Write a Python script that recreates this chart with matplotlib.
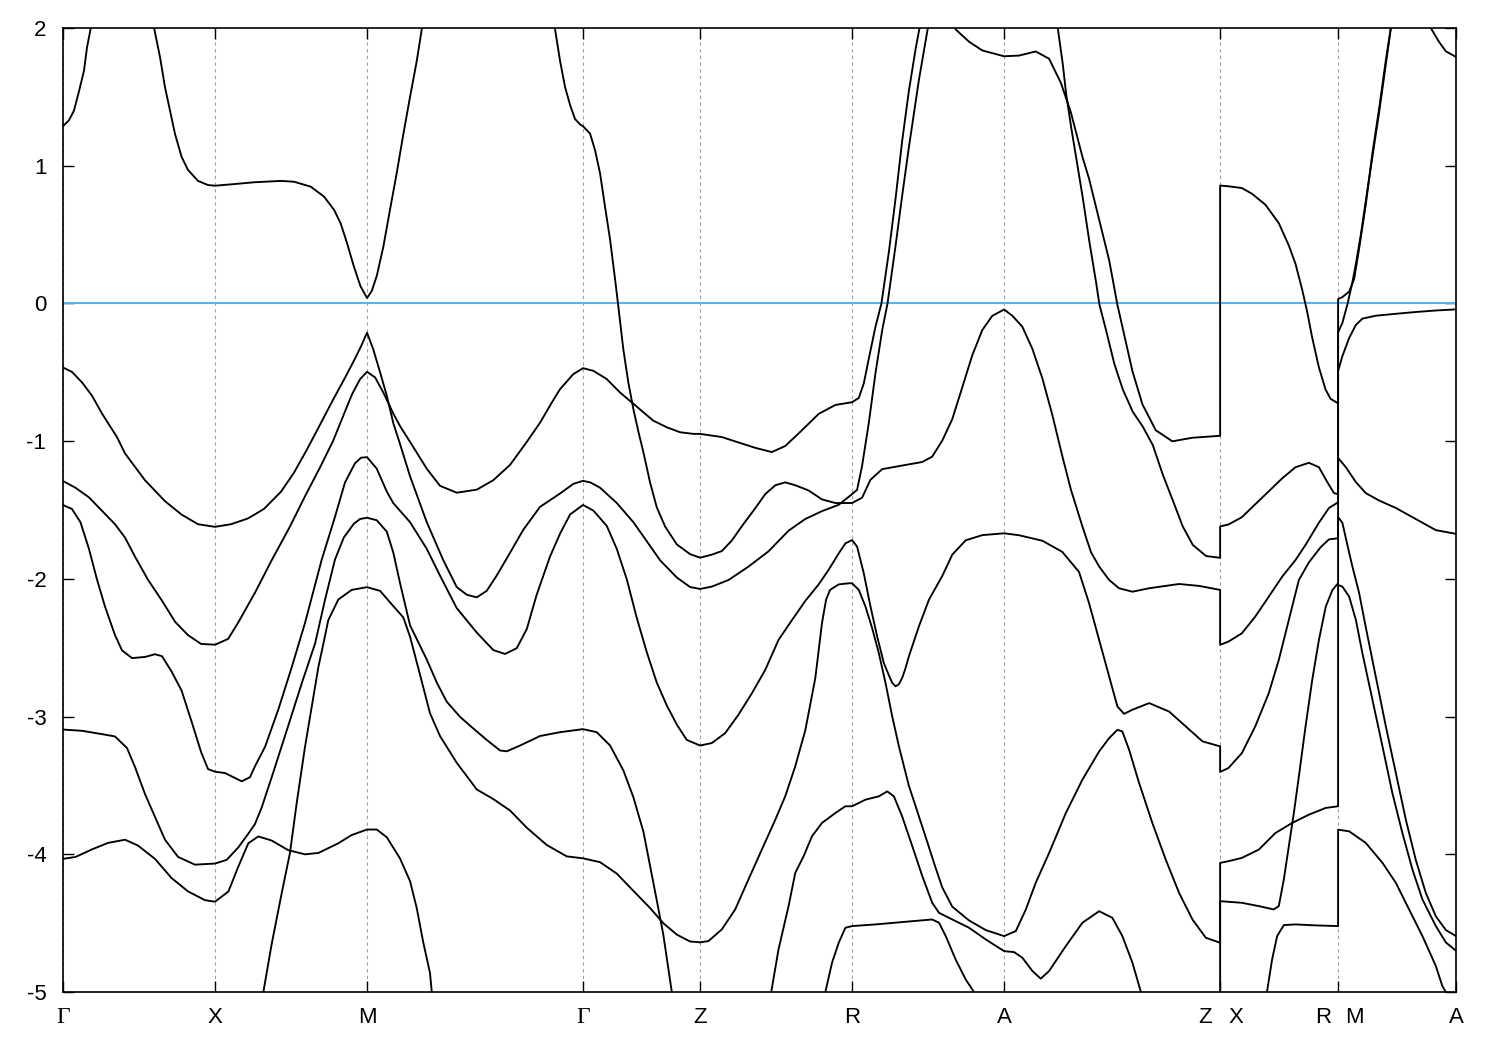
import matplotlib
matplotlib.use("Agg")
import matplotlib.pyplot as plt

# path coordinate in units of pi/a, high-symmetry points
k_ticks = [0.0, 1.0, 2.0, 3.421, 4.191, 5.191, 6.191, 7.612, 8.388, 9.164]
k_names = ['Γ', 'X', 'M', 'Γ', 'Z', 'R', 'A', '', '', 'A']
k_split = [(7.612, 'Z', 'X'), (8.388, 'R', 'M')]
e_ticks = [-5, -4, -3, -2, -1, 0, 1, 2]
e_fermi = 0.0

# ---- bands (k, E in eV), each one a continuous stroke along the path ----
A1_k = [0.0, 0.039, 0.072, 0.105, 0.138, 0.158, 0.181, 0.194]
A1_e = [1.287, 1.33, 1.40, 1.54, 1.69, 1.86, 1.99, 2.07]

B_k = [0.592, 0.601, 0.638, 0.671, 0.704, 0.737, 0.780, 0.822, 0.888, 0.954, 1.0,
       1.128, 1.257, 1.434, 1.520, 1.630, 1.717, 1.783, 1.826, 1.868, 1.913, 1.957, 2.0,
       2.031, 2.064, 2.107, 2.151, 2.195, 2.239, 2.283, 2.327, 2.360, 2.372]
B_e = [2.03, 1.99, 1.79, 1.57, 1.40, 1.23, 1.065, 0.97, 0.89, 0.86, 0.855,
       0.867, 0.88, 0.89, 0.884, 0.848, 0.776, 0.68, 0.583, 0.44, 0.27, 0.125, 0.04,
       0.09, 0.20, 0.41, 0.68, 0.945, 1.23, 1.50, 1.76, 1.99, 2.06]

A2_k = [3.227, 3.237, 3.270, 3.303, 3.336, 3.368, 3.401, 3.421,
        3.467, 3.5, 3.533, 3.566, 3.599, 3.632, 3.653, 3.686, 3.719, 3.752, 3.785, 3.818,
        3.862, 3.906, 3.961, 4.038, 4.125, 4.191,
        4.268, 4.334, 4.400, 4.466, 4.553, 4.620, 4.686, 4.751, 4.817, 4.905, 4.993, 5.081, 5.191,
        5.257, 5.312, 5.389, 5.520, 5.653, 5.718, 5.784, 5.850, 5.916, 5.982, 6.047, 6.113, 6.191,
        6.245, 6.311, 6.377, 6.443, 6.509, 6.574, 6.630, 6.706, 6.763, 6.816, 6.882, 6.947,
        7.035, 7.145, 7.342, 7.474, 7.612,
        7.612, 7.667, 7.755, 7.843, 7.932, 8.020, 8.108, 8.174, 8.262, 8.328, 8.388,
        8.388, 8.416, 8.461, 8.505, 8.548, 8.636, 8.768, 8.899, 9.031, 9.164]
A2_e = [2.06, 1.99, 1.76, 1.57, 1.44, 1.34, 1.30, 1.287,
        1.234, 1.113, 0.945, 0.70, 0.463, 0.173, -0.02, -0.333, -0.574, -0.766, -0.93, -1.08,
        -1.30, -1.48, -1.62, -1.75, -1.82, -1.846,
        -1.824, -1.798, -1.721, -1.617, -1.488, -1.384, -1.32, -1.299, -1.32, -1.358, -1.423, -1.449, -1.449,
        -1.41, -1.28, -1.203, -1.177, -1.151, -1.112, -0.996, -0.84, -0.608, -0.375, -0.194, -0.09, -0.044,
        -0.089, -0.169, -0.33, -0.545, -0.813, -1.109, -1.35, -1.619, -1.807, -1.91, -2.008, -2.068,
        -2.093, -2.068, -2.037, -2.051, -2.08,
        -2.479, -2.455, -2.395, -2.274, -2.129, -1.984, -1.863, -1.753, -1.592, -1.485, -1.444,
        -0.491, -0.383, -0.25, -0.156, -0.11, -0.089, -0.075, -0.062, -0.051, -0.043]

P_k = [0.0, 0.059, 0.125, 0.191, 0.257, 0.355, 0.408, 0.539, 0.671, 0.780, 0.888, 1.0,
       1.105, 1.217, 1.322, 1.434, 1.520, 1.605, 1.691, 1.776, 1.855, 1.921, 1.961, 2.0,
       2.041, 2.086, 2.130, 2.173, 2.217, 2.283, 2.393, 2.502, 2.590, 2.656, 2.722, 2.787,
       2.853, 2.941, 3.028, 3.138, 3.270, 3.357, 3.421,
       3.47, 3.533, 3.643, 3.752, 3.840, 3.928, 4.038, 4.125, 4.191,
       4.268, 4.378, 4.509, 4.641, 4.707, 4.773, 4.883, 4.993, 5.103, 5.191,
       5.224, 5.257, 5.301, 5.345, 5.389, 5.424, 5.477, 5.520, 5.564, 5.630, 5.697]
P_e = [-0.465, -0.497, -0.573, -0.67, -0.80, -0.97, -1.089, -1.283, -1.436, -1.533, -1.603, -1.622,
       -1.603, -1.561, -1.492, -1.367, -1.228, -1.06, -0.88, -0.70, -0.54, -0.40, -0.31, -0.212,
       -0.333, -0.50, -0.67, -0.87, -1.02, -1.255, -1.588, -1.865, -2.059, -2.115, -2.134, -2.087,
       -1.976, -1.81, -1.643, -1.477, -1.38, -1.31, -1.288,
       -1.30, -1.338, -1.449, -1.588, -1.726, -1.865, -1.99, -2.059, -2.073,
       -2.056, -2.008, -1.911, -1.80, -1.725, -1.65, -1.565, -1.508, -1.462, -1.384,
       -1.353, -1.177, -0.867, -0.504, -0.194, 0.0, 0.42, 0.78, 1.13, 1.62, 2.05]

Q_k = [0.0, 0.083, 0.171, 0.257, 0.342, 0.408, 0.474, 0.559, 0.651, 0.737, 0.822, 0.908, 1.0,
       1.086, 1.151, 1.263, 1.375, 1.493, 1.592, 1.691, 1.776, 1.842, 1.901, 1.954, 2.0,
       2.053, 2.107, 2.173, 2.217, 2.283, 2.393, 2.480, 2.590, 2.722, 2.831, 2.941, 3.051,
       3.138, 3.226, 3.270, 3.357, 3.421,
       3.489, 3.577, 3.664, 3.741, 3.818, 3.883, 3.972, 4.059, 4.147, 4.191,
       4.334, 4.443, 4.553, 4.663, 4.751, 4.839, 4.971, 5.081, 5.191,
       5.235, 5.268, 5.301, 5.345, 5.384, 5.433, 5.477, 5.520, 5.564, 5.609, 5.648]
Q_e = [-1.289, -1.339, -1.408, -1.506, -1.603, -1.70, -1.839, -2.006, -2.158, -2.311, -2.408, -2.472, -2.478,
       -2.436, -2.32, -2.10, -1.86, -1.62, -1.40, -1.19, -1.00, -0.82, -0.66, -0.55, -0.496,
       -0.537, -0.646, -0.80, -0.89, -1.005, -1.20, -1.324, -1.374, -1.352, -1.283, -1.172, -1.005,
       -0.866, -0.70, -0.622, -0.513, -0.47,
       -0.489, -0.549, -0.646, -0.718, -0.79, -0.851, -0.899, -0.935, -0.947, -0.947,
       -0.97, -1.009, -1.048, -1.079, -1.035, -0.944, -0.802, -0.737, -0.717,
       -0.686, -0.58, -0.40, -0.168, 0.0, 0.375, 0.763, 1.177, 1.54, 1.85, 2.08]

R3_k = [0.0, 0.059, 0.115, 0.171, 0.224, 0.276, 0.342, 0.388, 0.454, 0.539, 0.605, 0.651,
        0.714, 0.780, 0.845, 0.908, 0.954, 1.0,
        1.066, 1.176, 1.230, 1.263, 1.329, 1.416, 1.505, 1.592, 1.702, 1.789, 1.855, 1.921, 1.961, 2.0,
        2.064, 2.130, 2.173, 2.283, 2.393, 2.480, 2.590, 2.722, 2.831, 2.908, 2.985, 3.051,
        3.116, 3.204, 3.270, 3.336, 3.421,
        3.489, 3.577, 3.643, 3.709, 3.774, 3.840, 3.906, 3.972, 4.038, 4.103, 4.191,
        4.268, 4.356, 4.443, 4.532, 4.620, 4.707, 4.795, 4.883, 4.971, 5.036, 5.103, 5.147, 5.191,
        5.224, 5.268, 5.312, 5.356, 5.400, 5.433, 5.455, 5.477, 5.499, 5.520, 5.542, 5.564,
        5.630, 5.697, 5.784, 5.850, 5.938, 6.048, 6.191,
        6.289, 6.443, 6.574, 6.684, 6.750, 6.816, 6.882, 6.936, 6.980, 7.035, 7.145, 7.276,
        7.386, 7.496, 7.612,
        7.612, 7.667, 7.755, 7.843, 7.932, 7.998, 8.064, 8.130, 8.196, 8.273, 8.328, 8.388,
        8.388, 8.439, 8.505, 8.570, 8.658, 8.768, 8.899, 9.031, 9.164]
R3_e = [-1.464, -1.492, -1.589, -1.783, -2.006, -2.20, -2.408, -2.519, -2.575, -2.567, -2.547, -2.561,
        -2.672, -2.811, -3.033, -3.256, -3.381, -3.40,
        -3.41, -3.47, -3.44, -3.36, -3.22, -2.95, -2.64, -2.32, -1.86, -1.55, -1.30, -1.16, -1.12, -1.116,
        -1.20, -1.366, -1.45, -1.588, -1.782, -1.976, -2.212, -2.39, -2.517, -2.545, -2.503, -2.364,
        -2.115, -1.837, -1.671, -1.532, -1.463,
        -1.504, -1.615, -1.782, -2.004, -2.281, -2.531, -2.753, -2.919, -3.058, -3.169, -3.21,
        -3.192, -3.12, -2.987, -2.83, -2.66, -2.443, -2.30, -2.16, -2.04, -1.935, -1.815, -1.742, -1.718,
        -1.766, -1.96, -2.201, -2.419, -2.612, -2.70, -2.755, -2.78, -2.765, -2.72, -2.65, -2.564,
        -2.346, -2.15, -1.979, -1.824, -1.72, -1.682, -1.669,
        -1.683, -1.723, -1.804, -1.95, -2.177, -2.443, -2.709, -2.926, -2.98, -2.95, -2.902, -2.963,
        -3.071, -3.18, -3.216,
        -3.402, -3.373, -3.265, -3.071, -2.83, -2.588, -2.298, -2.008, -1.88, -1.77, -1.713, -1.705,
        -1.122, -1.189, -1.297, -1.377, -1.431, -1.485, -1.565, -1.646, -1.673]

R4_k = [0.0, 0.125, 0.276, 0.342, 0.421, 0.474, 0.539, 0.605, 0.671, 0.757, 0.868, 1.0,
        1.077, 1.153, 1.219, 1.263, 1.307, 1.373, 1.472, 1.570, 1.658, 1.724, 1.789, 1.847,
        1.913, 1.954, 2.0,
        2.064, 2.130, 2.173, 2.217, 2.283, 2.393, 2.459, 2.524, 2.612, 2.699, 2.787, 2.875,
        2.919, 3.007, 3.138, 3.270, 3.421,
        3.511, 3.599, 3.686, 3.752, 3.818, 3.862, 3.906, 3.949, 4.005, 4.020]
R4_e = [-3.094, -3.103, -3.131, -3.144, -3.228, -3.367, -3.561, -3.728, -3.894, -4.019, -4.075, -4.067,
        -4.04, -3.95, -3.85, -3.78, -3.66, -3.44, -3.10, -2.76, -2.47, -2.15, -1.86, -1.70,
        -1.60, -1.565, -1.556,
        -1.574, -1.657, -1.81, -2.03, -2.337, -2.586, -2.753, -2.891, -3.002, -3.086, -3.169, -3.246,
        -3.252, -3.21, -3.141, -3.113, -3.091,
        -3.113, -3.21, -3.39, -3.585, -3.835, -4.084, -4.334, -4.583, -5.0, -5.12]

R5_k = [0.0, 0.083, 0.191, 0.296, 0.408, 0.493, 0.605, 0.714, 0.822, 0.934, 1.0,
        1.088, 1.153, 1.219, 1.285, 1.373, 1.482, 1.592, 1.680, 1.811, 1.899, 2.0,
        2.064, 2.130, 2.217, 2.283, 2.327, 2.370, 2.414, 2.426, 2.434]
R5_e = [-4.033, -4.019, -3.964, -3.917, -3.894, -3.936, -4.033, -4.172, -4.269, -4.333, -4.344,
        -4.27, -4.09, -3.92, -3.87, -3.90, -3.97, -4.0, -3.99, -3.92, -3.86, -3.82,
        -3.82, -3.876, -4.03, -4.195, -4.39, -4.64, -4.86, -5.0, -5.1]

C_k = [1.309, 1.318, 1.373, 1.439, 1.493, 1.537, 1.592, 1.636, 1.680, 1.713, 1.745, 1.811, 1.899, 2.0,
       2.086, 2.173, 2.239, 2.283, 2.349, 2.414, 2.480, 2.590, 2.722, 2.831, 2.941, 3.051, 3.182,
       3.314, 3.421,
       3.533, 3.643, 3.752, 3.862, 3.949, 4.038, 4.125, 4.191,
       4.246, 4.334, 4.422, 4.509, 4.597, 4.686, 4.751, 4.817, 4.883, 4.949, 4.993, 5.020, 5.046,
       5.103, 5.168, 5.191,
       5.235, 5.279, 5.323, 5.367, 5.411, 5.455, 5.499, 5.564, 5.653, 5.741, 5.784, 5.850, 5.960,
       6.070, 6.191,
       6.268, 6.334, 6.399, 6.487, 6.597, 6.706, 6.816, 6.882, 6.936, 6.969, 7.013, 7.079, 7.166,
       7.254, 7.342, 7.430, 7.518, 7.612,
       7.612, 7.667, 7.755, 7.866, 7.976, 8.086, 8.196, 8.307, 8.388,
       8.388, 8.416, 8.461, 8.505, 8.548, 8.614, 8.680, 8.745, 8.811, 8.877, 8.943, 9.031, 9.097, 9.164]
C_e = [-5.1, -5.0, -4.65, -4.28, -3.99, -3.63, -3.22, -2.93, -2.64, -2.47, -2.30, -2.15, -2.08, -2.06,
       -2.087, -2.198, -2.28, -2.42, -2.697, -2.975, -3.141, -3.335, -3.529, -3.599, -3.682, -3.807, -3.932,
       -4.015, -4.029,
       -4.057, -4.14, -4.265, -4.39, -4.50, -4.583, -4.633, -4.639,
       -4.63, -4.545, -4.40, -4.183, -3.966, -3.748, -3.579, -3.361, -3.10, -2.72, -2.32, -2.15, -2.08,
       -2.04, -2.032, -2.032,
       -2.08, -2.201, -2.358, -2.54, -2.757, -2.999, -3.216, -3.50, -3.80, -4.10, -4.24, -4.38, -4.48,
       -4.55, -4.594,
       -4.557, -4.40, -4.207, -3.99, -3.70, -3.458, -3.253, -3.156, -3.096, -3.108, -3.24, -3.482, -3.772,
       -4.038, -4.28, -4.473, -4.606, -4.642,
       -4.062, -4.05, -4.026, -3.966, -3.845, -3.772, -3.712, -3.663, -3.651,
       -2.044, -2.056, -2.129, -2.298, -2.54, -2.878, -3.216, -3.555, -3.845, -4.11, -4.328, -4.521, -4.64, -4.70]

S1_k = [4.645, 4.659, 4.707, 4.773, 4.817, 4.872, 4.927, 4.993, 5.081, 5.147, 5.191,
        5.279, 5.367, 5.422, 5.466, 5.520, 5.587, 5.653, 5.718, 5.763, 5.850, 5.960, 6.070, 6.191,
        6.257, 6.311, 6.377, 6.432, 6.487, 6.597, 6.706, 6.816, 6.903, 6.969, 7.035, 7.091, 7.105, 7.612,
        7.612, 7.755, 7.866, 7.964, 7.998, 8.031, 8.064, 8.097, 8.130, 8.174, 8.218, 8.262, 8.307,
        8.351, 8.388,
        8.388, 8.416, 8.449, 8.482, 8.526, 8.570, 8.636, 8.702, 8.768, 8.834, 8.899, 8.965, 9.031,
        9.097, 9.164]
S1_e = [-5.12, -5.0, -4.69, -4.376, -4.135, -4.014, -3.869, -3.772, -3.70, -3.651, -3.651,
        -3.603, -3.579, -3.543, -3.579, -3.724, -3.941, -4.159, -4.352, -4.425, -4.473, -4.533, -4.618, -4.703,
        -4.71, -4.751, -4.847, -4.903, -4.847, -4.666, -4.497, -4.413, -4.461, -4.594, -4.787, -5.0, -5.06, -5.3,
        -4.34, -4.352, -4.376, -4.40, -4.376, -4.183, -3.941, -3.70, -3.434, -3.071, -2.733, -2.443, -2.201,
        -2.08, -2.032,
        -1.552, -1.592, -1.753, -1.91, -2.10, -2.35, -2.71, -3.07, -3.41, -3.75, -4.04, -4.28, -4.45,
        -4.55, -4.594]

S2_k = [5.007, 5.015, 5.059, 5.103, 5.147, 5.191, 5.345, 5.520, 5.718, 5.763, 5.807, 5.872, 5.938,
        5.993, 6.007]
S2_e = [-5.1, -5.0, -4.787, -4.642, -4.533, -4.521, -4.509, -4.492, -4.473, -4.497, -4.594, -4.763, -4.908,
        -5.0, -5.05]

S3_k = [7.911, 7.920, 7.954, 7.987, 8.031, 8.108, 8.240, 8.388,
        8.388, 8.461, 8.570, 8.680, 8.768, 8.855, 8.943, 9.031, 9.074, 9.097, 9.105]
S3_e = [-5.1, -5.0, -4.763, -4.594, -4.514, -4.509, -4.516, -4.521,
        -3.821, -3.833, -3.917, -4.062, -4.207, -4.40, -4.594, -4.811, -4.957, -5.0, -5.05]

U2_k = [5.855, 5.872, 5.961, 6.048, 6.191, 6.289, 6.399, 6.487, 6.564, 6.630, 6.706, 6.750, 6.816,
        6.882, 6.936, 6.980, 7.035, 7.101, 7.189, 7.298, 7.430, 7.612,
        7.612, 7.667, 7.755, 7.821, 7.910, 7.998, 8.064, 8.108, 8.152, 8.185, 8.218, 8.262, 8.306,
        8.339, 8.388,
        8.388, 8.416, 8.461, 8.494, 8.526, 8.570, 8.614, 8.658, 8.702, 8.735, 8.743]
U2_e = [2.07, 1.99, 1.90, 1.837, 1.795, 1.80, 1.83, 1.777, 1.603, 1.388, 1.066, 0.905, 0.609,
        0.314, -0.008, -0.223, -0.491, -0.733, -0.921, -1.001, -0.975, -0.961,
        0.856, 0.851, 0.838, 0.797, 0.717, 0.583, 0.421, 0.287, 0.099, -0.062, -0.25, -0.465, -0.626,
        -0.693, -0.725,
        0.032, 0.046, 0.086, 0.18, 0.395, 0.717, 1.093, 1.415, 1.765, 2.0, 2.06]

U1_k = [6.539, 6.544, 6.577, 6.599, 6.632, 6.664, 6.708, 6.752, 6.796, 6.818, 6.862, 6.916, 6.972,
        7.037, 7.103, 7.169, 7.235, 7.301, 7.366, 7.432, 7.520, 7.612,
        7.612, 7.667, 7.755, 7.843, 7.932, 8.020, 8.108, 8.196, 8.262, 8.317, 8.361, 8.388,
        8.388, 8.416, 8.449, 8.482, 8.505, 8.538, 8.570, 8.614, 8.658, 8.702, 8.735, 8.743]
U1_e = [2.05, 2.0, 1.737, 1.522, 1.28, 1.066, 0.77, 0.448, 0.153, -0.008, -0.196, -0.438, -0.625,
        -0.786, -0.894, -1.028, -1.243, -1.431, -1.619, -1.753, -1.834, -1.847,
        -1.619, -1.605, -1.552, -1.458, -1.364, -1.27, -1.189, -1.157, -1.189, -1.297, -1.377, -1.385,
        -0.209, -0.142, -0.008, 0.153, 0.287, 0.502, 0.744, 1.066, 1.388, 1.737, 2.0, 2.06]

T_k = [8.990, 8.998, 9.053, 9.097, 9.164]
T_e = [2.03, 2.0, 1.898, 1.831, 1.79]

bands = [(A1_k, A1_e), (B_k, B_e), (A2_k, A2_e), (P_k, P_e), (Q_k, Q_e),
         (R3_k, R3_e), (R4_k, R4_e), (R5_k, R5_e), (C_k, C_e), (S1_k, S1_e),
         (S2_k, S2_e), (S3_k, S3_e), (U2_k, U2_e), (U1_k, U1_e), (T_k, T_e)]

plt.rcParams['font.family'] = ['Liberation Sans', 'DejaVu Sans']

fig = plt.figure(figsize=(15, 10.5), dpi=100)
ax = fig.add_axes([0.042, 0.0552, 0.9287, 0.9181])

for k in k_ticks:
    ax.axvline(k, color='#a0a0a0', lw=0.8, ls=(0, (3, 3)), zorder=1)
ax.axhline(e_fermi, color='#56b4e9', lw=1.5, zorder=2)

for kk, ee in bands:
    ax.plot(kk, ee, color='black', lw=1.35, solid_joinstyle='round', zorder=3)

ax.set_xlim(k_ticks[0], k_ticks[-1])
ax.set_ylim(-5, 2)
ax.set_yticks(e_ticks)
ax.set_yticklabels([str(v) for v in e_ticks])
ax.set_xticks(k_ticks)
ax.set_xticklabels(k_names)

ax.tick_params(axis='both', direction='in', length=8, width=1.0,
               top=True, right=True, labelsize=16)
ax.tick_params(axis='x', pad=11)
ax.tick_params(axis='y', pad=12)
for lbl in ax.get_xticklabels():
    if lbl.get_text() == 'Γ':
        lbl.set_fontfamily(['Liberation Serif', 'DejaVu Serif'])
        lbl.set_fontsize(17)

# paired labels at the path breaks
for k, left, right in k_split:
    for txt, dx in ((left, -11), (right, 11.5)):
        ax.annotate(txt, xy=(k, 0), xycoords=('data', 'axes fraction'),
                    xytext=(dx, -11), textcoords='offset points',
                    ha='center', va='top', fontsize=16)

for s in ax.spines.values():
    s.set_linewidth(1.2)

fig.savefig('out.png', dpi=100)
